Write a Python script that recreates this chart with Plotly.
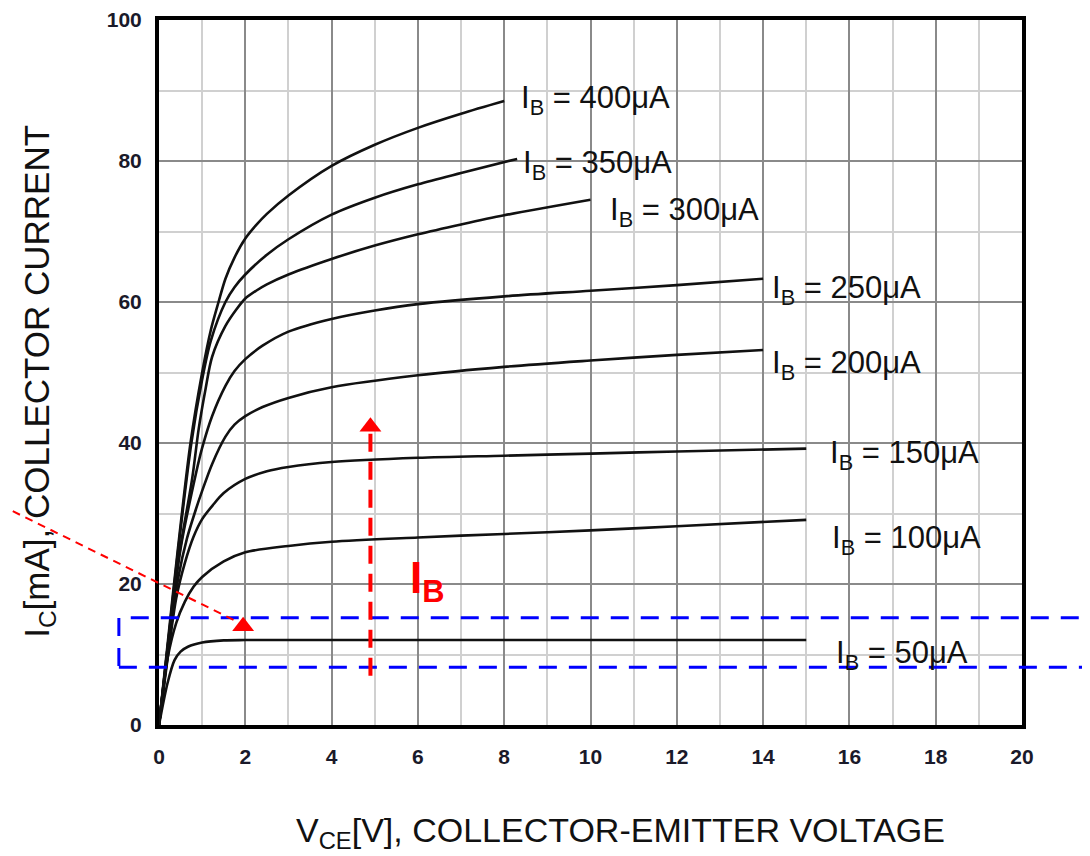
import plotly.graph_objects as go

# ---------------- data ----------------
ib_labels = ["50", "100", "150", "200", "250", "300", "350", "400"]

v50 = [0, 0.2, 0.36, 0.5, 0.67, 1.0, 1.5, 2, 4, 8, 12, 15]
i50 = [0, 6, 9.2, 10.4, 11.1, 11.7, 12.0, 12.05, 12.05, 12.05, 12.05, 12.05]

v100 = [0, 0.2, 0.4, 0.6, 0.8, 1.0, 1.5, 2, 3, 4, 6, 8, 10, 12, 15]
i100 = [0, 9.5, 14.5, 17.5, 19.6, 21, 23.2, 24.5, 25.4, 26, 26.6, 27.1, 27.6, 28.2, 29.1]

v150 = [0, 0.2, 0.4, 0.6, 0.8, 1.0, 1.25, 1.5, 2, 2.5, 3, 4, 6, 8, 10, 12, 15]
i150 = [0, 9.5, 18, 23, 26.7, 29.2, 31.2, 32.9, 34.9, 36, 36.6, 37.3, 37.9, 38.2, 38.5, 38.8, 39.2]

v200 = [0, 0.2, 0.45, 0.65, 0.85, 1.0, 1.23, 1.54, 1.75, 2, 2.4, 3, 4, 6, 8, 10, 12, 14]
i200 = [0, 10, 21, 26.5, 30.5, 33.2, 37, 40.9, 42.6, 43.8, 45.1, 46.4, 47.9, 49.6, 50.8, 51.7, 52.5, 53.2]

v250 = [0, 0.2, 0.5, 0.85, 1.0, 1.23, 1.54, 1.75, 2, 2.4, 3, 4, 5, 6, 8, 10, 12, 14]
i250 = [0, 10.5, 25, 35.5, 39.3, 43.8, 48.1, 50.2, 51.9, 53.8, 55.8, 57.6, 58.8, 59.7, 60.8, 61.6, 62.4, 63.3]

v300 = [0, 0.2, 0.45, 0.77, 0.92, 1.08, 1.23, 1.54, 1.8, 2, 2.25, 2.5, 3, 4, 5, 6, 7, 8, 10]
i300 = [0, 11, 23.5, 35, 42, 47.7, 52.2, 56.6, 59, 60.5, 61.6, 62.5, 63.9, 66.1, 68, 69.6, 71, 72.3, 74.5]

v350 = [0, 0.2, 0.42, 0.75, 1.0, 1.2, 1.54, 1.75, 2, 2.5, 3, 4, 5, 6, 7, 8.3]
i350 = [0, 11, 23.5, 40, 49, 54.5, 60, 62.1, 63.9, 66.7, 68.9, 72.4, 74.8, 76.7, 78.3, 80.3]

v400 = [0, 0.2, 0.42, 0.73, 1.0, 1.2, 1.38, 1.54, 1.75, 2, 2.25, 2.5, 3, 4, 5, 6, 7, 8]
i400 = [0, 11.5, 24, 40, 50, 56, 60, 63.3, 66.3, 69, 70.9, 72.5, 75.1, 79.3, 82.3, 84.7, 86.7, 88.5]

curves_v = [v50, v100, v150, v200, v250, v300, v350, v400]
curves_i = [i50, i100, i150, i200, i250, i300, i350, i400]

# label anchor positions (V, mA) for each curve label
label_v = [15.65, 15.55, 15.5, 14.15, 14.15, 10.4, 8.4, 8.35]
label_i = [10.4, 26.6, 38.7, 51.5, 62.1, 73.2, 79.9, 89.1]

x_ticks = [0, 2, 4, 6, 8, 10, 12, 14, 16, 18, 20]
y_ticks = [0, 20, 40, 60, 80, 100]

# ---------------- figure ----------------
fig = go.Figure()

for vv, ii in zip(curves_v, curves_i):
    fig.add_trace(go.Scatter(
        x=vv, y=ii, mode="lines",
        line=dict(color="#111111", width=2.6, shape="spline", smoothing=0.85),
        showlegend=False, hoverinfo="skip"))

FONT = "Liberation Sans, Arial, sans-serif"

for lab, lv, li in zip(ib_labels, label_v, label_i):
    fig.add_annotation(
        x=lv, y=li, xref="x", yref="y", xanchor="left", yanchor="middle",
        text="I<sub>B</sub> = " + lab + "μA", showarrow=False,
        font=dict(family=FONT, size=31, color="#111111"),
        bgcolor="rgba(255,255,255,0)", yshift=-3)

# ---- red arrows and blue highlight box (paper coords = data / range) ----
XR, YR = 20.0, 100.0
def px(v):
    return v / XR
def py(i):
    return i / YR

# blue dashed box around the 50uA curve
fig.add_shape(type="rect", xref="paper", yref="paper",
              x0=px(-0.93), x1=px(21.44), y0=py(8.2), y1=py(15.2),
              line=dict(color="#0000ff", width=3, dash="18px,12px"),
              fillcolor="rgba(0,0,0,0)", layer="above")

# thin red dashed pointer
fig.add_shape(type="line", xref="paper", yref="paper",
              x0=px(-3.68), y0=py(31.2), x1=px(1.8), y1=py(14.7),
              line=dict(color="#ff0000", width=2, dash="8px,6px"), layer="above")

# vertical red dashed arrow (IB increasing)
fig.add_shape(type="line", xref="x", yref="y",
              x0=4.9, y0=7.0, x1=4.9, y1=41.5,
              line=dict(color="#ff0000", width=4, dash="18px,10px"), layer="above")

fig.add_trace(go.Scatter(
    x=[1.95, 4.9], y=[14.0, 42.3], mode="markers",
    marker=dict(symbol="triangle-up", size=19, color="#ff0000", line=dict(width=0)),
    cliponaxis=False, showlegend=False, hoverinfo="skip"))

fig.add_annotation(x=5.78, y=20.4, xref="x", yref="y", xanchor="left", yanchor="middle",
                   text="<b>I<sub>B</sub></b>", showarrow=False,
                   font=dict(family=FONT, size=44, color="#ff0000"))

# axis titles
fig.add_annotation(x=0.535, y=-0.152, xref="paper", yref="paper",
                   xanchor="center", yanchor="middle", showarrow=False,
                   text="V<sub>CE</sub>[V], COLLECTOR-EMITTER VOLTAGE",
                   font=dict(family=FONT, size=34, color="#111111"))
fig.add_annotation(x=-0.140, y=0.487, xref="paper", yref="paper",
                   xanchor="center", yanchor="middle", showarrow=False, textangle=-90,
                   text="I<sub>C</sub>[mA], COLLECTOR CURRENT",
                   font=dict(family=FONT, size=35, color="#111111"))

fig.update_layout(
    width=1090, height=856,
    margin=dict(l=151, r=76, t=12, b=139, autoexpand=False),
    paper_bgcolor="white", plot_bgcolor="white",
    showlegend=False,
    xaxis=dict(range=[0, 20], tickvals=x_ticks, ticktext=[str(t) for t in x_ticks],
               automargin=False,
               showgrid=True, gridcolor="#8a8a8a", gridwidth=2,
               minor=dict(dtick=1, showgrid=True, gridcolor="#d0d0d0", gridwidth=2),
               showline=True, linecolor="black", linewidth=4, mirror=True,
               zeroline=False, ticks="", ticklabelstandoff=10,
               tickfont=dict(family=FONT, size=21, color="#1a1a2a", weight="bold")),
    yaxis=dict(range=[0, 100], tickvals=y_ticks, ticktext=[str(t) for t in y_ticks],
               automargin=False,
               showgrid=True, gridcolor="#8a8a8a", gridwidth=2,
               minor=dict(dtick=10, showgrid=True, gridcolor="#d0d0d0", gridwidth=2),
               showline=True, linecolor="black", linewidth=4, mirror=True,
               zeroline=False, ticks="", ticklabelstandoff=9,
               tickfont=dict(family=FONT, size=21, color="#1a1a2a", weight="bold")),
)

fig.write_html("out.html")
